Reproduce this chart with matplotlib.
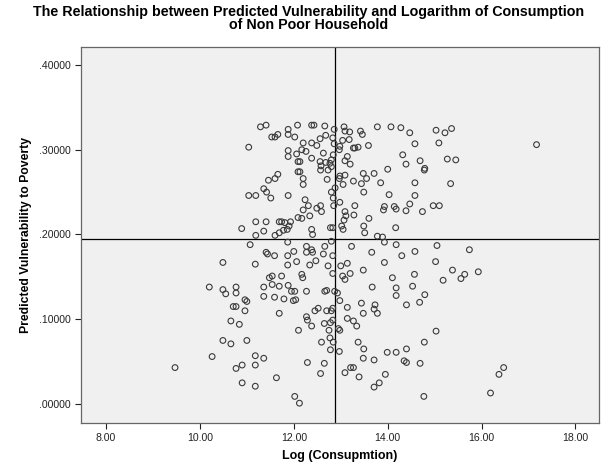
import numpy as np
import matplotlib.pyplot as plt
from matplotlib.ticker import FuncFormatter

plt.rcParams['font.family'] = ['Liberation Sans', 'DejaVu Sans']

# Log consumption (x) and predicted vulnerability (y)
log_consumption = np.array([
    # upper left block
    11.29, 11.41, 11.53, 11.60, 11.66, 11.88, 11.88, 11.04, 11.88, 11.88,
    11.66, 11.60, 11.46, 11.36, 11.42, 11.51, 11.04, 11.19, 11.88, 10.89,
    11.19, 11.41, 11.69, 11.74, 11.81, 11.36, 11.19, 11.60, 11.69, 11.78,
    11.86, 11.90, 12.08, 12.02, 12.06, 12.09, 12.09, 12.09, 11.93,
    # upper middle block
    12.38, 12.43, 12.66, 12.86, 13.07, 13.09, 13.19, 13.42, 13.46, 13.78,
    14.07, 14.28, 14.47, 12.20, 12.38, 12.49, 12.56, 12.68, 12.83, 12.86,
    12.98, 13.04, 13.18, 13.30, 13.37, 13.59, 12.97, 14.58, 12.17, 12.26,
    12.38, 12.63, 12.84, 13.09, 13.14, 13.20, 13.27, 14.32, 14.39, 14.69,
    14.79, 14.78, 12.13, 12.56, 12.58, 12.68, 12.77, 12.80, 12.13, 12.20,
    12.20, 12.57, 12.73, 12.71, 12.80, 12.98, 12.97, 13.09, 13.05, 13.27,
    13.44, 13.48, 13.55, 13.71, 13.85, 14.00, 14.58, 12.88, 12.80, 12.84,
    12.98, 12.85, 12.24, 12.31, 12.49, 12.57, 12.59, 12.20, 12.34, 13.09,
    13.11, 13.28, 13.30, 13.49, 14.03, 13.93, 13.91, 14.14, 14.18, 14.39,
    14.47, 14.58, 14.74, 12.17, 12.38, 12.40, 12.78, 12.83, 13.02, 13.05,
    13.07, 13.60, 13.49, 13.51, 13.78, 13.89, 14.17,
    # upper right block
    15.03, 15.22, 15.36, 15.09, 17.17, 15.27, 15.45, 15.34, 14.97, 15.10,
    # lower left block
    11.07, 11.41, 11.44, 11.59, 11.87, 11.87, 11.87, 10.49, 11.18, 10.20,
    10.49, 10.55, 10.77, 10.77, 10.96, 11.00, 10.71, 10.77, 10.96, 11.36,
    11.36, 11.48, 11.54, 11.54, 11.74, 11.69, 11.59, 11.79, 11.69, 11.88,
    10.66, 10.84, 10.49, 10.66, 11.00, 10.26, 9.47, 11.18, 11.36, 10.77,
    10.90, 11.18, 11.63, 10.90, 11.18,
    # lower middle block
    12.00, 12.06, 12.27, 12.38, 12.27, 12.40, 12.63, 12.66, 12.80, 12.83,
    13.23, 13.66, 13.93, 14.18, 14.30, 14.58, 12.47, 12.34, 12.73, 12.83,
    13.00, 13.14, 13.93, 12.17, 12.19, 13.04, 13.09, 13.20, 13.48, 14.10,
    14.57, 11.95, 12.02, 11.99, 12.04, 12.27, 12.66, 12.70, 12.87, 12.93,
    12.98, 13.67, 14.18, 14.18, 14.53, 14.79, 14.68, 14.40, 13.44, 13.48,
    13.73, 13.71, 13.78, 13.14, 12.83, 12.80, 12.70, 12.52, 12.45, 12.27,
    12.29, 12.38, 12.10, 12.65, 12.78, 12.83, 12.75, 12.95, 12.98, 13.14,
    13.27, 13.34, 12.77, 12.84, 12.78, 12.97, 12.59, 13.37, 13.49, 13.48,
    13.71, 13.99, 14.18, 14.40, 14.35, 14.40, 14.69, 14.78, 12.29, 12.65,
    12.57, 13.09, 13.21, 13.27, 13.39, 13.95, 13.82, 13.71, 14.77, 12.02,
    12.12,
    # lower right block
    15.05, 15.74, 15.02, 15.38, 15.18, 15.56, 15.64, 15.93, 15.03, 16.47,
    16.37, 16.19,
])

vulnerability = np.array([
    # upper left block
    0.327, 0.329, 0.315, 0.315, 0.318, 0.324, 0.318, 0.303, 0.299, 0.292,
    0.271, 0.266, 0.264, 0.254, 0.250, 0.243, 0.246, 0.246, 0.246, 0.207,
    0.215, 0.215, 0.215, 0.215, 0.214, 0.204, 0.199, 0.199, 0.202, 0.205,
    0.206, 0.210, 0.329, 0.315, 0.295, 0.286, 0.274, 0.220, 0.215,
    # upper middle block
    0.329, 0.329, 0.328, 0.324, 0.327, 0.322, 0.321, 0.322, 0.318, 0.327,
    0.327, 0.326, 0.320, 0.308, 0.308, 0.305, 0.313, 0.317, 0.314, 0.307,
    0.304, 0.311, 0.312, 0.302, 0.303, 0.305, 0.300, 0.307, 0.300, 0.298,
    0.290, 0.296, 0.294, 0.287, 0.292, 0.283, 0.302, 0.294, 0.283, 0.287,
    0.278, 0.276, 0.286, 0.286, 0.281, 0.285, 0.284, 0.288, 0.274, 0.266,
    0.259, 0.276, 0.276, 0.265, 0.280, 0.269, 0.266, 0.270, 0.259, 0.263,
    0.260, 0.272, 0.266, 0.272, 0.261, 0.277, 0.261, 0.255, 0.250, 0.243,
    0.238, 0.234, 0.241, 0.234, 0.231, 0.234, 0.227, 0.229, 0.222, 0.227,
    0.222, 0.223, 0.234, 0.250, 0.247, 0.233, 0.229, 0.233, 0.230, 0.228,
    0.236, 0.246, 0.227, 0.219, 0.206, 0.200, 0.208, 0.208, 0.210, 0.206,
    0.217, 0.219, 0.210, 0.202, 0.198, 0.197, 0.208,
    # upper right block
    0.323, 0.320, 0.325, 0.308, 0.306, 0.289, 0.288, 0.260, 0.234, 0.234,
    # lower left block
    0.188, 0.179, 0.177, 0.175, 0.191, 0.175, 0.164, 0.167, 0.165, 0.138,
    0.135, 0.130, 0.138, 0.131, 0.123, 0.121, 0.115, 0.115, 0.110, 0.138,
    0.127, 0.149, 0.151, 0.141, 0.151, 0.139, 0.126, 0.124, 0.107, 0.140,
    0.098, 0.094, 0.075, 0.071, 0.075, 0.056, 0.043, 0.057, 0.054, 0.042,
    0.046, 0.046, 0.031, 0.025, 0.021,
    # lower middle block
    0.180, 0.168, 0.186, 0.182, 0.179, 0.179, 0.177, 0.186, 0.192, 0.175,
    0.186, 0.179, 0.191, 0.188, 0.175, 0.180, 0.169, 0.164, 0.163, 0.154,
    0.163, 0.166, 0.167, 0.153, 0.149, 0.151, 0.147, 0.154, 0.158, 0.149,
    0.153, 0.133, 0.133, 0.122, 0.123, 0.133, 0.133, 0.134, 0.133, 0.131,
    0.122, 0.138, 0.137, 0.128, 0.139, 0.129, 0.120, 0.117, 0.119, 0.107,
    0.117, 0.112, 0.107, 0.114, 0.113, 0.110, 0.110, 0.113, 0.110, 0.103,
    0.099, 0.092, 0.087, 0.095, 0.096, 0.099, 0.087, 0.089, 0.087, 0.101,
    0.098, 0.092, 0.078, 0.073, 0.064, 0.062, 0.073, 0.073, 0.065, 0.054,
    0.052, 0.061, 0.061, 0.065, 0.051, 0.049, 0.048, 0.073, 0.049, 0.048,
    0.036, 0.037, 0.043, 0.043, 0.032, 0.035, 0.025, 0.020, 0.009, 0.009,
    0.001,
    # lower right block
    0.187, 0.182, 0.168, 0.158, 0.146, 0.148, 0.153, 0.156, 0.086, 0.043,
    0.035, 0.013,
])

# reference lines (means)
mean_log = 12.87
mean_vul = 0.195

x_ticks = [8, 10, 12, 14, 16, 18]
y_ticks = [0.0, 0.1, 0.2, 0.3, 0.4]

fig = plt.figure(figsize=(6.06, 4.67), dpi=100)
ax = fig.add_axes([0.1337, 0.0949, 0.8547, 0.8045])
ax.set_facecolor('#f0f0f0')

ax.scatter(log_consumption, vulnerability, s=17, facecolors='none',
           edgecolors='#3a3a3a', linewidths=0.8, zorder=3)

ax.axvline(mean_log, color='black', lw=0.9, zorder=2)
ax.axhline(mean_vul, color='black', lw=0.9, zorder=2)

ax.set_xlim(7.468, 18.5)
ax.set_ylim(-0.022, 0.4212)
ax.set_xticks(x_ticks)
ax.set_yticks(y_ticks)
ax.xaxis.set_major_formatter(FuncFormatter(lambda v, p: '%.2f' % v))
ax.yaxis.set_major_formatter(FuncFormatter(lambda v, p: ('%.5f' % v).lstrip('0')))
ax.tick_params(labelsize=7.6, colors='#222222', length=4, width=0.8, direction='out')

for sp in ax.spines.values():
    sp.set_color('#666666')
    sp.set_linewidth(0.9)

ax.set_xlabel('Log (Consupmtion)', fontsize=9, fontweight='bold', labelpad=5)
ax.set_ylabel('Predicted Vulnerability to Poverty', fontsize=8.8, fontweight='bold', labelpad=5)

fig.text(0.51, 0.99, 'The Relationship between Predicted Vulnerability and Logarithm of Consumption\nof Non Poor Household',
         ha='center', va='top', fontsize=10.3, fontweight='bold', linespacing=0.95)

fig.savefig('out.png', dpi=100)
